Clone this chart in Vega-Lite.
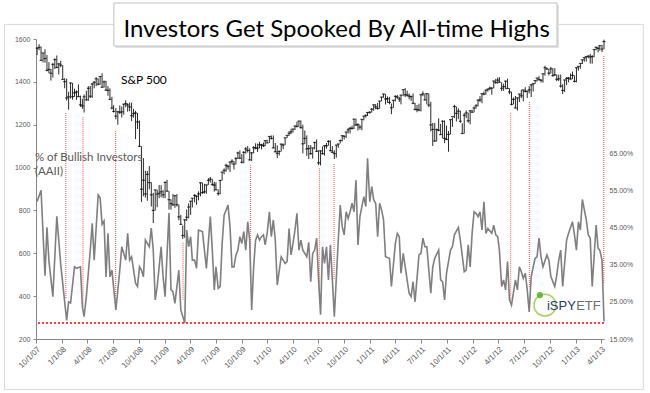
{
"$schema": "https://vega.github.io/schema/vega-lite/v6.json",
"width": 568, "height": 300,
"autosize": {"type": "none"},
"padding": {"left": 36, "top": 39, "right": 46, "bottom": 54},
"background": "white",
"config": {"view": {"stroke": null}, "font": "Liberation Sans", "axis": {"labelFont": "Liberation Sans"}},
"datasets": {
"sp": [
{"d":"2007-10-05","h":1561,"l":1525,"c":1557,"b":0.52},
{"d":"2007-10-12","h":1576,"l":1548,"c":1561},
{"d":"2007-10-19","h":1565,"l":1500,"c":1500,"b":0.55},
{"d":"2007-10-26","h":1535,"l":1490,"c":1535},
{"d":"2007-11-02","h":1552,"l":1490,"c":1509,"b":0.32},
{"d":"2007-11-09","h":1525,"l":1450,"c":1453,"b":0.45},
{"d":"2007-11-16","h":1492,"l":1440,"c":1458,"b":0.36},
{"d":"2007-11-23","h":1460,"l":1406,"c":1440},
{"d":"2007-11-30","h":1488,"l":1420,"c":1481,"b":0.264},
{"d":"2007-12-07","h":1510,"l":1460,"c":1504},
{"d":"2007-12-14","h":1523,"l":1465,"c":1467,"b":0.48},
{"d":"2007-12-21","h":1487,"l":1435,"c":1484},
{"d":"2007-12-28","h":1498,"l":1468,"c":1478,"b":0.35},
{"d":"2008-01-04","h":1478,"l":1411,"c":1411},
{"d":"2008-01-11","h":1417,"l":1370,"c":1401},
{"d":"2008-01-18","h":1415,"l":1313,"c":1325,"b":0.20},
{"d":"2008-01-25","h":1354,"l":1270,"c":1330,"b":0.25},
{"d":"2008-02-01","h":1396,"l":1322,"c":1395,"b":0.247},
{"d":"2008-02-08","h":1395,"l":1317,"c":1331},
{"d":"2008-02-15","h":1368,"l":1330,"c":1349,"b":0.344},
{"d":"2008-02-22","h":1360,"l":1316,"c":1353,"b":0.34},
{"d":"2008-02-29","h":1388,"l":1330,"c":1331},
{"d":"2008-03-07","h":1336,"l":1283,"c":1293,"b":0.344},
{"d":"2008-03-14","h":1321,"l":1274,"c":1288,"b":0.236},
{"d":"2008-03-20","h":1341,"l":1257,"c":1330,"b":0.21},
{"d":"2008-03-28","h":1359,"l":1312,"c":1316,"b":0.264},
{"d":"2008-04-04","h":1380,"l":1311,"c":1370},
{"d":"2008-04-11","h":1381,"l":1324,"c":1333,"b":0.389},
{"d":"2008-04-18","h":1395,"l":1325,"c":1390,"b":0.461},
{"d":"2008-04-25","h":1404,"l":1370,"c":1398,"b":0.362},
{"d":"2008-05-02","h":1422,"l":1380,"c":1414},
{"d":"2008-05-09","h":1416,"l":1384,"c":1389,"b":0.537},
{"d":"2008-05-16","h":1426,"l":1386,"c":1425,"b":0.53},
{"d":"2008-05-23","h":1440,"l":1373,"c":1375,"b":0.458},
{"d":"2008-05-30","h":1406,"l":1373,"c":1400,"b":0.467},
{"d":"2008-06-06","h":1405,"l":1359,"c":1361,"b":0.317},
{"d":"2008-06-13","h":1380,"l":1335,"c":1360,"b":0.434},
{"d":"2008-06-20","h":1370,"l":1316,"c":1318,"b":0.317},
{"d":"2008-06-27","h":1330,"l":1272,"c":1278,"b":0.335},
{"d":"2008-07-03","h":1291,"l":1257,"c":1262},
{"d":"2008-07-11","h":1278,"l":1225,"c":1240,"b":0.228},
{"d":"2008-07-18","h":1263,"l":1200,"c":1261},
{"d":"2008-07-25","h":1290,"l":1250,"c":1258,"b":0.335},
{"d":"2008-08-01","h":1285,"l":1234,"c":1260,"b":0.398},
{"d":"2008-08-08","h":1297,"l":1247,"c":1296},
{"d":"2008-08-15","h":1314,"l":1282,"c":1298,"b":0.362},
{"d":"2008-08-22","h":1300,"l":1261,"c":1292,"b":0.434},
{"d":"2008-08-29","h":1304,"l":1263,"c":1283,"b":0.362},
{"d":"2008-09-05","h":1303,"l":1217,"c":1242,"b":0.371},
{"d":"2008-09-12","h":1274,"l":1233,"c":1252},
{"d":"2008-09-19","h":1265,"l":1133,"c":1255,"b":0.30},
{"d":"2008-09-26","h":1255,"l":1180,"c":1213,"b":0.291},
{"d":"2008-10-03","h":1220,"l":1097,"c":1099,"b":0.344},
{"d":"2008-10-10","h":1099,"l":840,"c":899,"b":0.335},
{"d":"2008-10-17","h":1044,"l":866,"c":941,"b":0.317},
{"d":"2008-10-24","h":985,"l":860,"c":877,"b":0.416},
{"d":"2008-10-31","h":984,"l":845,"c":968},
{"d":"2008-11-07","h":1007,"l":899,"c":930,"b":0.398},
{"d":"2008-11-14","h":932,"l":818,"c":873,"b":0.448},
{"d":"2008-11-21","h":882,"l":741,"c":800,"b":0.389},
{"d":"2008-11-28","h":896,"l":800,"c":896,"b":0.255},
{"d":"2008-12-05","h":896,"l":815,"c":876,"b":0.291},
{"d":"2008-12-12","h":919,"l":857,"c":880},
{"d":"2008-12-19","h":918,"l":861,"c":887,"b":0.398},
{"d":"2008-12-26","h":895,"l":857,"c":873,"b":0.317},
{"d":"2009-01-02","h":934,"l":857,"c":931,"b":0.264},
{"d":"2009-01-09","h":943,"l":888,"c":890},
{"d":"2009-01-16","h":890,"l":804,"c":850,"b":0.489},
{"d":"2009-01-23","h":852,"l":804,"c":832,"b":0.282},
{"d":"2009-01-30","h":877,"l":821,"c":826,"b":0.277},
{"d":"2009-02-06","h":870,"l":812,"c":869,"b":0.246},
{"d":"2009-02-13","h":876,"l":818,"c":827},
{"d":"2009-02-20","h":827,"l":754,"c":770,"b":0.335},
{"d":"2009-02-27","h":779,"l":734,"c":735,"b":0.228},
{"d":"2009-03-06","h":730,"l":667,"c":683},
{"d":"2009-03-13","h":759,"l":672,"c":756,"b":0.193},
{"d":"2009-03-20","h":804,"l":751,"c":768,"b":0.443},
{"d":"2009-03-27","h":833,"l":763,"c":816,"b":0.398},
{"d":"2009-04-03","h":845,"l":779,"c":843,"b":0.425},
{"d":"2009-04-09","h":857,"l":814,"c":857,"b":0.362},
{"d":"2009-04-17","h":876,"l":838,"c":870,"b":0.362},
{"d":"2009-04-24","h":871,"l":826,"c":866,"b":0.34},
{"d":"2009-05-01","h":889,"l":847,"c":877,"b":0.443},
{"d":"2009-05-08","h":930,"l":866,"c":929},
{"d":"2009-05-15","h":930,"l":878,"c":883,"b":0.439},
{"d":"2009-05-22","h":924,"l":879,"c":887,"b":0.389},
{"d":"2009-05-29","h":920,"l":878,"c":919,"b":0.34},
{"d":"2009-06-05","h":951,"l":919,"c":940},
{"d":"2009-06-12","h":956,"l":930,"c":946,"b":0.479},
{"d":"2009-06-19","h":946,"l":915,"c":921,"b":0.389},
{"d":"2009-06-26","h":934,"l":888,"c":918,"b":0.282},
{"d":"2009-07-02","h":931,"l":895,"c":896,"b":0.344},
{"d":"2009-07-10","h":898,"l":869,"c":879,"b":0.286},
{"d":"2009-07-17","h":942,"l":875,"c":940,"b":0.291},
{"d":"2009-07-24","h":980,"l":940,"c":979,"b":0.407},
{"d":"2009-07-31","h":996,"l":969,"c":987,"b":0.483},
{"d":"2009-08-07","h":1018,"l":980,"c":1010},
{"d":"2009-08-14","h":1013,"l":990,"c":1005,"b":0.51},
{"d":"2009-08-21","h":1027,"l":979,"c":1026,"b":0.452},
{"d":"2009-08-28","h":1039,"l":1015,"c":1029,"b":0.344},
{"d":"2009-09-04","h":1031,"l":991,"c":1016,"b":0.344},
{"d":"2009-09-11","h":1049,"l":1015,"c":1042,"b":0.376},
{"d":"2009-09-18","h":1074,"l":1040,"c":1068,"b":0.389},
{"d":"2009-09-25","h":1080,"l":1041,"c":1044,"b":0.425},
{"d":"2009-10-02","h":1063,"l":1019,"c":1025,"b":0.407},
{"d":"2009-10-09","h":1076,"l":1020,"c":1071,"b":0.439},
{"d":"2009-10-16","h":1096,"l":1065,"c":1087,"b":0.389},
{"d":"2009-10-23","h":1101,"l":1070,"c":1080,"b":0.465},
{"d":"2009-10-30","h":1090,"l":1033,"c":1036,"b":0.416},
{"d":"2009-11-06","h":1072,"l":1030,"c":1069,"b":0.228},
{"d":"2009-11-13","h":1100,"l":1067,"c":1093,"b":0.344},
{"d":"2009-11-20","h":1113,"l":1085,"c":1091,"b":0.416},
{"d":"2009-11-27","h":1112,"l":1073,"c":1091,"b":0.43},
{"d":"2009-12-04","h":1120,"l":1090,"c":1106,"b":0.416},
{"d":"2009-12-11","h":1111,"l":1085,"c":1106,"b":0.425},
{"d":"2009-12-18","h":1117,"l":1096,"c":1102,"b":0.43},
{"d":"2009-12-24","h":1127,"l":1100,"c":1126,"b":0.403},
{"d":"2009-12-31","h":1130,"l":1115,"c":1115,"b":0.434},
{"d":"2010-01-08","h":1146,"l":1115,"c":1145,"b":0.492},
{"d":"2010-01-15","h":1150,"l":1131,"c":1136,"b":0.425},
{"d":"2010-01-22","h":1150,"l":1090,"c":1092,"b":0.47},
{"d":"2010-01-29","h":1115,"l":1071,"c":1074,"b":0.416},
{"d":"2010-02-05","h":1104,"l":1044,"c":1066,"b":0.295},
{"d":"2010-02-12","h":1080,"l":1056,"c":1075},
{"d":"2010-02-19","h":1112,"l":1075,"c":1109,"b":0.371},
{"d":"2010-02-26","h":1112,"l":1086,"c":1105,"b":0.362},
{"d":"2010-03-05","h":1139,"l":1105,"c":1139,"b":0.353},
{"d":"2010-03-12","h":1151,"l":1138,"c":1150,"b":0.358},
{"d":"2010-03-19","h":1170,"l":1147,"c":1160,"b":0.447},
{"d":"2010-03-26","h":1181,"l":1156,"c":1167,"b":0.376},
{"d":"2010-04-02","h":1181,"l":1163,"c":1179,"b":0.407},
{"d":"2010-04-09","h":1195,"l":1175,"c":1194,"b":0.443},
{"d":"2010-04-16","h":1214,"l":1187,"c":1192,"b":0.488},
{"d":"2010-04-23","h":1217,"l":1190,"c":1217,"b":0.389},
{"d":"2010-04-30","h":1220,"l":1181,"c":1187,"b":0.416},
{"d":"2010-05-07","h":1200,"l":1066,"c":1111,"b":0.389},
{"d":"2010-05-14","h":1173,"l":1110,"c":1136},
{"d":"2010-05-21","h":1150,"l":1055,"c":1087,"b":0.371},
{"d":"2010-05-28","h":1105,"l":1040,"c":1089,"b":0.41},
{"d":"2010-06-04","h":1105,"l":1060,"c":1065,"b":0.304},
{"d":"2010-06-11","h":1092,"l":1042,"c":1092,"b":0.38},
{"d":"2010-06-18","h":1120,"l":1085,"c":1117,"b":0.389},
{"d":"2010-06-25","h":1131,"l":1073,"c":1076,"b":0.421},
{"d":"2010-07-02","h":1081,"l":1011,"c":1022,"b":0.309},
{"d":"2010-07-09","h":1080,"l":1010,"c":1078,"b":0.215},
{"d":"2010-07-16","h":1099,"l":1061,"c":1065,"b":0.398},
{"d":"2010-07-23","h":1103,"l":1056,"c":1102,"b":0.353},
{"d":"2010-07-30","h":1115,"l":1088,"c":1102,"b":0.398},
{"d":"2010-08-06","h":1128,"l":1102,"c":1122,"b":0.309},
{"d":"2010-08-13","h":1127,"l":1076,"c":1079,"b":0.403},
{"d":"2010-08-20","h":1100,"l":1069,"c":1071,"b":0.309},
{"d":"2010-08-27","h":1081,"l":1040,"c":1065,"b":0.21},
{"d":"2010-09-03","h":1105,"l":1046,"c":1105},
{"d":"2010-09-10","h":1111,"l":1092,"c":1110,"b":0.416},
{"d":"2010-09-17","h":1131,"l":1113,"c":1126,"b":0.51},
{"d":"2010-09-24","h":1149,"l":1122,"c":1149,"b":0.452},
{"d":"2010-10-01","h":1150,"l":1131,"c":1146,"b":0.43},
{"d":"2010-10-08","h":1167,"l":1138,"c":1166,"b":0.492},
{"d":"2010-10-15","h":1184,"l":1159,"c":1176,"b":0.474},
{"d":"2010-10-22","h":1190,"l":1159,"c":1183,"b":0.492},
{"d":"2010-10-29","h":1196,"l":1177,"c":1183,"b":0.515},
{"d":"2010-11-05","h":1227,"l":1180,"c":1226,"b":0.492},
{"d":"2010-11-12","h":1228,"l":1194,"c":1199,"b":0.577},
{"d":"2010-11-19","h":1207,"l":1173,"c":1200,"b":0.403},
{"d":"2010-11-26","h":1198,"l":1177,"c":1189,"b":0.479},
{"d":"2010-12-03","h":1225,"l":1174,"c":1225,"b":0.506},
{"d":"2010-12-10","h":1241,"l":1220,"c":1240,"b":0.533},
{"d":"2010-12-17","h":1247,"l":1233,"c":1244,"b":0.506},
{"d":"2010-12-23","h":1258,"l":1241,"c":1257,"b":0.636},
{"d":"2010-12-31","h":1263,"l":1251,"c":1258,"b":0.519},
{"d":"2011-01-07","h":1278,"l":1257,"c":1272,"b":0.56},
{"d":"2011-01-14","h":1294,"l":1265,"c":1293,"b":0.524},
{"d":"2011-01-21","h":1296,"l":1272,"c":1283,"b":0.515},
{"d":"2011-01-28","h":1302,"l":1270,"c":1276,"b":0.425},
{"d":"2011-02-04","h":1311,"l":1275,"c":1310,"b":0.515},
{"d":"2011-02-11","h":1330,"l":1310,"c":1329,"b":0.497},
{"d":"2011-02-18","h":1344,"l":1326,"c":1343,"b":0.47},
{"d":"2011-02-25","h":1343,"l":1294,"c":1320,"b":0.371},
{"d":"2011-03-04","h":1332,"l":1302,"c":1321},
{"d":"2011-03-11","h":1330,"l":1295,"c":1304,"b":0.367},
{"d":"2011-03-18","h":1299,"l":1249,"c":1279,"b":0.291},
{"d":"2011-03-25","h":1315,"l":1279,"c":1314},
{"d":"2011-04-01","h":1337,"l":1308,"c":1332,"b":0.407},
{"d":"2011-04-08","h":1339,"l":1321,"c":1329,"b":0.434},
{"d":"2011-04-15","h":1330,"l":1306,"c":1320,"b":0.425},
{"d":"2011-04-21","h":1339,"l":1295,"c":1338,"b":0.327},
{"d":"2011-04-29","h":1364,"l":1333,"c":1364,"b":0.38},
{"d":"2011-05-06","h":1371,"l":1329,"c":1340,"b":0.344},
{"d":"2011-05-13","h":1359,"l":1332,"c":1338},
{"d":"2011-05-20","h":1346,"l":1318,"c":1333,"b":0.273},
{"d":"2011-05-27","h":1336,"l":1311,"c":1331,"b":0.264},
{"d":"2011-06-03","h":1346,"l":1296,"c":1300,"b":0.304},
{"d":"2011-06-10","h":1302,"l":1268,"c":1271,"b":0.25},
{"d":"2011-06-17","h":1292,"l":1258,"c":1271},
{"d":"2011-06-24","h":1298,"l":1263,"c":1268,"b":0.376},
{"d":"2011-07-01","h":1341,"l":1262,"c":1340,"b":0.38},
{"d":"2011-07-08","h":1356,"l":1333,"c":1344,"b":0.421},
{"d":"2011-07-15","h":1344,"l":1313,"c":1316,"b":0.398},
{"d":"2011-07-22","h":1347,"l":1295,"c":1345,"b":0.398},
{"d":"2011-07-29","h":1345,"l":1282,"c":1292},
{"d":"2011-08-05","h":1307,"l":1168,"c":1199,"b":0.273},
{"d":"2011-08-12","h":1208,"l":1101,"c":1178,"b":0.344},
{"d":"2011-08-19","h":1208,"l":1120,"c":1124,"b":0.367},
{"d":"2011-08-26","h":1182,"l":1122,"c":1177},
{"d":"2011-09-02","h":1230,"l":1170,"c":1174,"b":0.389},
{"d":"2011-09-09","h":1204,"l":1153,"c":1154,"b":0.309},
{"d":"2011-09-16","h":1220,"l":1136,"c":1216,"b":0.304},
{"d":"2011-09-23","h":1220,"l":1114,"c":1136,"b":0.255},
{"d":"2011-09-30","h":1196,"l":1129,"c":1131,"b":0.327},
{"d":"2011-10-07","h":1171,"l":1074,"c":1155},
{"d":"2011-10-14","h":1224,"l":1155,"c":1224,"b":0.389},
{"d":"2011-10-21","h":1234,"l":1190,"c":1238,"b":0.398},
{"d":"2011-10-28","h":1293,"l":1231,"c":1285,"b":0.43},
{"d":"2011-11-04","h":1285,"l":1215,"c":1253},
{"d":"2011-11-11","h":1277,"l":1226,"c":1263,"b":0.45},
{"d":"2011-11-18","h":1266,"l":1209,"c":1216,"b":0.416},
{"d":"2011-11-25","h":1207,"l":1158,"c":1159},
{"d":"2011-12-02","h":1254,"l":1158,"c":1244,"b":0.331},
{"d":"2011-12-09","h":1267,"l":1231,"c":1255,"b":0.335},
{"d":"2011-12-16","h":1256,"l":1209,"c":1219,"b":0.403},
{"d":"2011-12-23","h":1267,"l":1202,"c":1265,"b":0.344},
{"d":"2011-12-30","h":1270,"l":1257,"c":1258,"b":0.434},
{"d":"2012-01-06","h":1285,"l":1258,"c":1278,"b":0.492},
{"d":"2012-01-13","h":1296,"l":1275,"c":1289,"b":0.488},
{"d":"2012-01-20","h":1316,"l":1285,"c":1315,"b":0.479},
{"d":"2012-01-27","h":1333,"l":1306,"c":1316,"b":0.492},
{"d":"2012-02-03","h":1345,"l":1300,"c":1345,"b":0.443},
{"d":"2012-02-10","h":1355,"l":1337,"c":1343,"b":0.519},
{"d":"2012-02-17","h":1363,"l":1340,"c":1361,"b":0.434},
{"d":"2012-02-24","h":1368,"l":1354,"c":1366,"b":0.447},
{"d":"2012-03-02","h":1378,"l":1361,"c":1370},
{"d":"2012-03-09","h":1374,"l":1340,"c":1371,"b":0.434},
{"d":"2012-03-16","h":1405,"l":1370,"c":1404,"b":0.456},
{"d":"2012-03-23","h":1414,"l":1391,"c":1397,"b":0.43},
{"d":"2012-03-30","h":1420,"l":1391,"c":1408,"b":0.425},
{"d":"2012-04-05","h":1422,"l":1397,"c":1398,"b":0.389},
{"d":"2012-04-13","h":1398,"l":1357,"c":1370,"b":0.291},
{"d":"2012-04-20","h":1392,"l":1358,"c":1378,"b":0.309},
{"d":"2012-04-27","h":1406,"l":1366,"c":1403,"b":0.282},
{"d":"2012-05-04","h":1415,"l":1367,"c":1369,"b":0.358},
{"d":"2012-05-11","h":1370,"l":1343,"c":1353,"b":0.255},
{"d":"2012-05-18","h":1354,"l":1291,"c":1295,"b":0.241},
{"d":"2012-05-25","h":1328,"l":1295,"c":1318},
{"d":"2012-06-01","h":1334,"l":1277,"c":1278,"b":0.309},
{"d":"2012-06-08","h":1326,"l":1266,"c":1325,"b":0.282},
{"d":"2012-06-15","h":1343,"l":1306,"c":1343,"b":0.344},
{"d":"2012-06-22","h":1364,"l":1324,"c":1335,"b":0.331},
{"d":"2012-06-29","h":1363,"l":1309,"c":1362,"b":0.313},
{"d":"2012-07-06","h":1375,"l":1351,"c":1355,"b":0.327},
{"d":"2012-07-13","h":1357,"l":1325,"c":1357,"b":0.282},
{"d":"2012-07-20","h":1380,"l":1346,"c":1363,"b":0.223},
{"d":"2012-07-27","h":1389,"l":1329,"c":1386,"b":0.318},
{"d":"2012-08-03","h":1395,"l":1355,"c":1391},
{"d":"2012-08-10","h":1407,"l":1390,"c":1406,"b":0.367},
{"d":"2012-08-17","h":1418,"l":1401,"c":1418,"b":0.371},
{"d":"2012-08-24","h":1426,"l":1406,"c":1411,"b":0.421},
{"d":"2012-08-31","h":1413,"l":1397,"c":1407,"b":0.371},
{"d":"2012-09-07","h":1438,"l":1396,"c":1438,"b":0.344},
{"d":"2012-09-14","h":1475,"l":1429,"c":1466},
{"d":"2012-09-21","h":1467,"l":1455,"c":1460,"b":0.376},
{"d":"2012-09-28","h":1460,"l":1430,"c":1441,"b":0.362},
{"d":"2012-10-05","h":1470,"l":1439,"c":1461,"b":0.318},
{"d":"2012-10-12","h":1464,"l":1425,"c":1429},
{"d":"2012-10-19","h":1464,"l":1428,"c":1433,"b":0.291},
{"d":"2012-10-26","h":1434,"l":1403,"c":1412,"b":0.322},
{"d":"2012-11-02","h":1434,"l":1404,"c":1414,"b":0.362},
{"d":"2012-11-09","h":1434,"l":1373,"c":1380,"b":0.389},
{"d":"2012-11-16","h":1389,"l":1343,"c":1360,"b":0.291},
{"d":"2012-11-23","h":1409,"l":1353,"c":1409},
{"d":"2012-11-30","h":1422,"l":1385,"c":1416,"b":0.416},
{"d":"2012-12-07","h":1423,"l":1398,"c":1418,"b":0.434},
{"d":"2012-12-14","h":1439,"l":1411,"c":1413},
{"d":"2012-12-21","h":1448,"l":1413,"c":1430,"b":0.465},
{"d":"2012-12-28","h":1430,"l":1398,"c":1402,"b":0.43},
{"d":"2013-01-04","h":1467,"l":1398,"c":1466,"b":0.389},
{"d":"2013-01-11","h":1472,"l":1452,"c":1472,"b":0.465},
{"d":"2013-01-18","h":1486,"l":1461,"c":1486,"b":0.443},
{"d":"2013-01-25","h":1503,"l":1483,"c":1503,"b":0.525},
{"d":"2013-02-01","h":1514,"l":1494,"c":1513},
{"d":"2013-02-08","h":1518,"l":1495,"c":1518,"b":0.47},
{"d":"2013-02-15","h":1524,"l":1510,"c":1520,"b":0.43},
{"d":"2013-02-22","h":1530,"l":1485,"c":1516,"b":0.421},
{"d":"2013-03-01","h":1525,"l":1485,"c":1518,"b":0.291},
{"d":"2013-03-08","h":1552,"l":1515,"c":1551},
{"d":"2013-03-15","h":1564,"l":1547,"c":1561,"b":0.456},
{"d":"2013-03-22","h":1564,"l":1538,"c":1556,"b":0.394},
{"d":"2013-03-28","h":1570,"l":1546,"c":1569,"b":0.389},
{"d":"2013-04-05","h":1573,"l":1539,"c":1553,"b":0.362},
{"d":"2013-04-12","h":1597,"l":1553,"c":1588,"b":0.197}
],
"rules": [
{"d":"2008-01-15","top":1255,"bot":391},
{"d":"2008-03-16","top":1235,"bot":351},
{"d":"2008-07-10","top":1171,"bot":374},
{"d":"2009-03-07","top":649,"bot":382},
{"d":"2009-11-02","top":1012,"bot":486},
{"d":"2010-07-05","top":997,"bot":397},
{"d":"2010-08-26","top":1017,"bot":475},
{"d":"2012-05-15","top":1256,"bot":382},
{"d":"2012-07-21","top":1306,"bot":437},
{"d":"2013-04-11","top":1521,"bot":455}
]
},
"layer": [
{
"layer": [
{"data": {"values": [{}]},
 "mark": {"type": "rect", "fillOpacity": 0, "stroke": "#d9d9d9", "strokeWidth": 1},
 "encoding": {"x": {"datum": {"year": 2007, "month": 6, "date": 11, "utc": true}, "type": "temporal",
     "scale": {"type": "utc", "domain": [{"year": 2007, "month": 10, "date": 1, "utc": true}, {"year": 2013, "month": 4, "date": 12, "utc": true}], "nice": false},
     "axis": {"title": null, "grid": false, "format": "%-m/%-d/%y", "labelAngle": -45, "labelFontSize": 8, "labelColor": "#595959", "domainColor": "#868686", "tickColor": "#868686", "tickSize": 4, "labelPadding": 2, "labelOverlap": false, "labelBound": false, "labelFlush": false,
       "tickCount": {"interval": "month", "step": 3}}},
   "x2": {"datum": {"year": 2013, "month": 8, "date": 30, "utc": true}},
   "y": {"datum": -36, "type": "quantitative",
     "scale": {"domain": [200, 1600], "nice": false, "zero": false},
     "axis": {"title": null, "grid": false, "values": [200, 400, 600, 800, 1000, 1200, 1400, 1600], "format": "d", "labelFontSize": 7, "labelColor": "#595959", "domainColor": "#868686", "tickColor": "#868686", "tickSize": 3, "labelPadding": 3}},
   "y2": {"datum": 1668}}},
{"data": {"name": "sp"},
 "mark": {"type": "rule", "color": "#2a2a2a", "strokeWidth": 1},
 "encoding": {
   "x": {"field": "d", "type": "temporal"},
   "y": {"field": "l", "type": "quantitative"},
   "y2": {"field": "h"}}},
{"data": {"name": "sp"},
 "mark": {"type": "tick", "orient": "horizontal", "color": "#000000", "size": 3, "thickness": 1.2},
 "encoding": {"x": {"field": "d", "type": "temporal"}, "y": {"field": "c", "type": "quantitative"}}},
{"data": {"name": "rules"},
 "mark": {"type": "rule", "color": "#ff6a6a", "strokeWidth": 1.2, "strokeDash": [1, 1]},
 "encoding": {"x": {"field": "d", "type": "temporal"}, "y": {"field": "top", "type": "quantitative"}, "y2": {"field": "bot"}}},
{"data": {"values": [{}]},
 "mark": {"type": "rect", "fill": "#e3e3e3", "stroke": null},
 "encoding": {"x": {"datum": {"year": 2008, "month": 7, "date": 11, "utc": true}, "type": "temporal"},
   "x2": {"datum": {"year": 2012, "month": 11, "date": 3, "utc": true}},
   "y": {"datum": 1558, "type": "quantitative"}, "y2": {"datum": 1759}}},
{"data": {"values": [{}]},
 "mark": {"type": "rect", "fill": "#ffffff", "stroke": "#bfbfbf", "strokeWidth": 1},
 "encoding": {"x": {"datum": {"year": 2008, "month": 7, "date": 4, "utc": true}, "type": "temporal"},
   "x2": {"datum": {"year": 2012, "month": 10, "date": 27, "utc": true}},
   "y": {"datum": 1567, "type": "quantitative"}, "y2": {"datum": 1768}}},
{"data": {"values": [{"t": "Investors Get Spooked By All-time Highs"}]},
 "mark": {"type": "text", "align": "center", "baseline": "alphabetic", "font": "Lato", "fontSize": 24, "color": "#000000"},
 "encoding": {"x": {"datum": {"year": 2010, "month": 9, "date": 4, "utc": true}, "type": "temporal"}, "y": {"datum": 1609, "type": "quantitative"}, "text": {"field": "t"}}},
{"data": {"values": [{"t": "S&P 500"}]},
 "mark": {"type": "text", "align": "left", "baseline": "middle", "font": "Lato", "fontSize": 12, "color": "#000000"},
 "encoding": {"x": {"datum": {"year": 2008, "month": 7, "date": 29, "utc": true}, "type": "temporal"}, "y": {"datum": 1409, "type": "quantitative"}, "text": {"field": "t"}}},
{"data": {"values": [{"t": "% of Bullish Investors"}]},
 "mark": {"type": "text", "align": "left", "baseline": "middle", "font": "Lato", "fontSize": 11.5, "color": "#595959"},
 "encoding": {"x": {"datum": {"year": 2007, "month": 9, "date": 27, "utc": true}, "type": "temporal"}, "y": {"datum": 1046, "type": "quantitative"}, "text": {"field": "t"}}},
{"data": {"values": [{"t": "(AAII)"}]},
 "mark": {"type": "text", "align": "left", "baseline": "middle", "font": "Lato", "fontSize": 11.5, "color": "#595959"},
 "encoding": {"x": {"datum": {"year": 2007, "month": 9, "date": 27, "utc": true}, "type": "temporal"}, "y": {"datum": 981, "type": "quantitative"}, "text": {"field": "t"}}}
]
},
{
"layer": [
{"data": {"name": "sp"},
 "transform": [{"filter": "isValid(datum.b)"}],
 "mark": {"type": "line", "color": "#7f7f7f", "strokeWidth": 1.6},
 "encoding": {
   "x": {"field": "d", "type": "temporal"},
   "y": {"field": "b", "type": "quantitative",
     "scale": {"domain": [0.15, 0.9565], "nice": false, "zero": false},
     "axis": {"orient": "right", "title": null, "grid": false, "domain": false, "ticks": false, "values": [0.15, 0.25, 0.35, 0.45, 0.55, 0.65], "format": ".2%", "labelFontSize": 7, "labelColor": "#595959", "labelPadding": 5}}}},
{"data": {"values": [{}]},
 "mark": {"type": "rule", "color": "#ff0000", "strokeWidth": 1.5, "strokeDash": [2, 2]},
 "encoding": {"y": {"datum": 0.193, "type": "quantitative"}}},
{"data": {"values": [{}]},
 "mark": {"type": "point", "shape": "circle", "filled": false, "stroke": "#8cc63f", "strokeWidth": 1.5, "opacity": 0.75, "size": 480},
 "encoding": {"x": {"datum": {"year": 2012, "month": 9, "date": 14, "utc": true}, "type": "temporal"}, "y": {"datum": 0.241, "type": "quantitative"}}},
{"data": {"values": [{}]},
 "mark": {"type": "point", "shape": "circle", "filled": true, "fill": "#5fb130", "opacity": 0.9, "size": 40},
 "encoding": {"x": {"datum": {"year": 2012, "month": 8, "date": 27, "utc": true}, "type": "temporal"}, "y": {"datum": 0.268, "type": "quantitative"}}},
{"data": {"values": [{"t": "iSPY"}]},
 "mark": {"type": "text", "align": "left", "baseline": "alphabetic", "font": "Liberation Sans", "fontSize": 13, "color": "#2b3a67"},
 "encoding": {"x": {"datum": {"year": 2012, "month": 9, "date": 21, "utc": true}, "type": "temporal"}, "y": {"datum": 0.228, "type": "quantitative"}, "text": {"field": "t"}}},
{"data": {"values": [{"t": "ETF"}]},
 "mark": {"type": "text", "align": "left", "baseline": "alphabetic", "font": "Liberation Sans", "fontSize": 13, "color": "#6d6e71"},
 "encoding": {"x": {"datum": {"year": 2013, "month": 1, "date": 3, "utc": true}, "type": "temporal"}, "y": {"datum": 0.228, "type": "quantitative"}, "text": {"field": "t"}}}
]
}
],
"resolve": {"scale": {"y": "independent"}}
}
